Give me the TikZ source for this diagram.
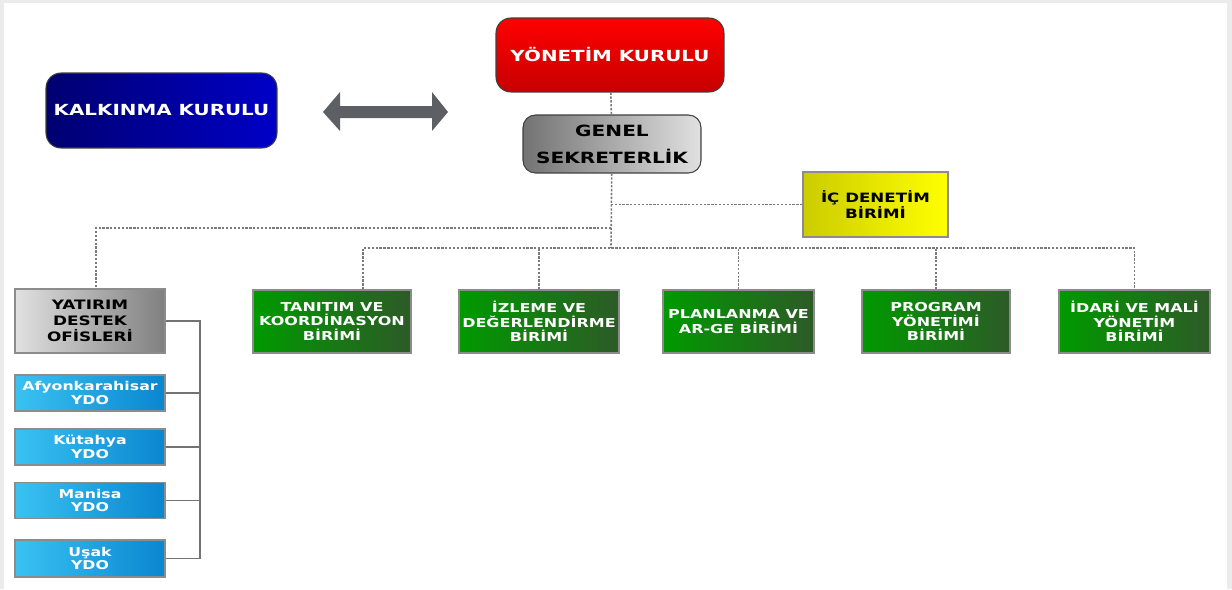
\documentclass[tikz,border=0pt]{standalone}
\usepackage{fontspec}
\setmainfont{DejaVu Sans}[FakeStretch=1.3]
\usetikzlibrary{calc}

\definecolor{navyL}{HTML}{000070}
\definecolor{navyR}{HTML}{0000C8}
\definecolor{greenL}{HTML}{009A00}
\definecolor{greenR}{HTML}{2D5A27}
\definecolor{cyanL}{HTML}{3AC2F2}
\definecolor{cyanR}{HTML}{0A86D0}
\definecolor{arrowgray}{HTML}{5C6064}
\definecolor{linkgray}{HTML}{7A7A7A}

\tikzset{
  box/.style={draw=black!75,line width=0.6pt,inner sep=0pt,align=center,font=\bfseries},
  board/.style={box,rounded corners=0.3cm,text=white,font=\fontsize{8.7}{10}\bfseries},
  unit/.style={box,draw=black!45,left color=greenL,right color=greenR,text=white,
    minimum height=1.26cm,font=\fontsize{7}{8.3}\bfseries},
  office/.style={box,draw=black!45,left color=cyanL,right color=cyanR,text=white,
    minimum width=3cm,minimum height=0.72cm,font=\fontsize{6.9}{7.9}\bfseries},
  link/.style={linkgray,dash pattern=on 1.3pt off 0.9pt,line width=0.9pt},
  tree/.style={black!55,line width=0.6pt}
}

\begin{document}
\begin{tikzpicture}[x=0.02cm,y=-0.02cm]
\fill[black!8] (0,0) rectangle (1232,589);
\fill[white] (4,3) rectangle (1227,589);
\useasboundingbox (0,0) rectangle (1232,589);

% top
\node[board,left color=navyL,right color=navyR,minimum width=4.62cm,minimum height=1.5cm] (kk) at (161.5,110.5) {KALKINMA KURULU};
\node[board,top color=red,bottom color=red!78!black,minimum width=4.56cm,minimum height=1.48cm] (yk) at (610,55) {YÖNETİM KURULU};
\node[box,rounded corners=0.25cm,left color=black!55,right color=black!12,minimum width=3.56cm,minimum height=1.16cm,
  font=\fontsize{8.8}{15.5}\bfseries] (gs) at (612,144) {GENEL\\SEKRETERLİK};
\node[box,draw=black!45,left color=yellow!80!black,right color=yellow,minimum width=2.9cm,minimum height=1.3cm,
  font=\fontsize{7.3}{8.8}\bfseries] (icd) at (875.5,204.5) {İÇ DENETİM\\BİRİMİ};

\fill[arrowgray] (323,112) -- (340,92) -- (340,106) -- (432,106) -- (432,92) -- (448,112)
  -- (432,131) -- (432,118) -- (340,118) -- (340,131) -- cycle;

% units
\node[unit,minimum width=3.16cm] (tan) at (332,321.5) {TANITIM VE\\KOORDİNASYON\\BİRİMİ};
\node[unit,minimum width=3.2cm] (izl) at (539,321.5) {İZLEME VE\\DEĞERLENDİRME\\BİRİMİ};
\node[unit,minimum width=3.02cm] (pla) at (738.5,321.5) {PLANLANMA VE\\AR-GE BİRİMİ};
\node[unit,minimum width=2.96cm] (prg) at (936,321.5) {PROGRAM\\YÖNETİMİ\\BİRİMİ};
\node[unit,minimum width=3.02cm] (ida) at (1134.5,321.5) {İDARİ VE MALİ\\YÖNETİM\\BİRİMİ};

% offices
\node[box,draw=black!45,left color=black!12,right color=black!50,minimum width=3cm,minimum height=1.28cm,
  font=\fontsize{7.4}{9}\bfseries] (ydo) at (90,321) {YATIRIM\\DESTEK\\OFİSLERİ};
\node[office] (afy) at (90,393) {Afyonkarahisar\\YDO};
\node[office] (kut) at (90,447) {Kütahya\\YDO};
\node[office] (man) at (90,500.5) {Manisa\\YDO};
\node[office,minimum height=0.74cm] (usk) at (90,558.5) {Uşak\\YDO};

% connectors
\coordinate (j) at (611,248);
\coordinate (jl) at (611,228);
\coordinate (v) at (200,321);
\draw[link] (yk) -- (gs);
\draw[link] (gs) -- (j);
\draw[link] (icd.west) -- (icd.west -| j);
\draw[link] (jl) -| ([xshift=0.12cm]ydo.north);
\draw[link] ([xshift=0.62cm]tan.north) |- (ida.north |- j) -- (ida.north);
\foreach \n in {izl,pla,prg}
  \draw[link] (\n.north) -- (\n.north |- j);
\draw[tree] (ydo.east) -- (ydo.east -| v) -- (usk.east -| v) -- (usk.east);
\foreach \n in {afy,kut,man}
  \draw[tree] (\n.east) -- (\n.east -| v);
\end{tikzpicture}
\end{document}
